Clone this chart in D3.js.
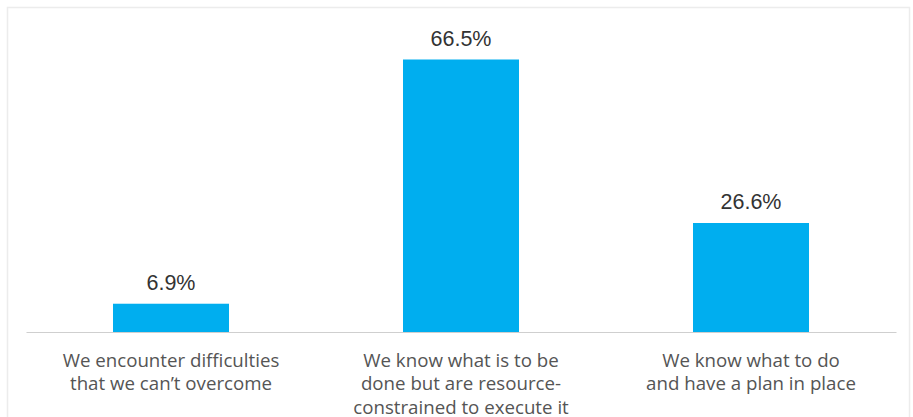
<!DOCTYPE html>
<html>
<head>
<meta charset="utf-8">
<script src="https://cdn.jsdelivr.net/npm/d3@7"></script>
<style>
  body { margin: 0; background: #fff; }
  svg { display: block; font-family: "Liberation Sans", Arial, sans-serif; }
  .cat { font-family: "Open Sans", "Liberation Sans", sans-serif; }
</style>
</head>
<body>
<svg id="chart" width="913" height="417"></svg>
<script>
const categories = [
    ["We encounter difficulties", "that we can\u2019t overcome"],
    ["We know what is to be", "done but are resource-", "constrained to execute it"],
    ["We know what to do", "and have a plan in place"]
];
const values = [6.9, 66.5, 26.6];
const valueLabels = ["6.9%", "66.5%", "26.6%"];

const svg = d3.select("#chart");

// faint frame around the chart
svg.append("rect")
    .attr("x", 7.5).attr("y", 7.5)
    .attr("width", 902).attr("height", 420)
    .attr("fill", "none")
    .attr("stroke", "#ececec")
    .attr("stroke-width", 1.5);

const baseline = 332;
const left = 26, right = 896;

const x = d3.scaleBand()
    .domain(d3.range(values.length))
    .range([left, right])
    .paddingInner(0.6)
    .paddingOuter(0.3);

const y = d3.scaleLinear()
    .domain([0, 66.5])
    .range([baseline, 59.5]);

svg.selectAll(".bar")
    .data(values)
    .enter().append("rect")
    .attr("class", "bar")
    .attr("x", (d, i) => x(i))
    .attr("y", d => y(d))
    .attr("width", x.bandwidth())
    .attr("height", d => baseline - y(d))
    .attr("fill", "#00aeef");

// baseline axis
const axis = svg.append("g")
    .attr("transform", `translate(0,${baseline})`)
    .call(d3.axisBottom(x).tickSize(0).tickFormat(""));
axis.select(".domain").attr("stroke", "#cfcfcf").attr("stroke-width", 1.2);

svg.selectAll(".val")
    .data(values)
    .enter().append("text")
    .attr("class", "val")
    .attr("x", (d, i) => x(i) + x.bandwidth() / 2)
    .attr("y", d => y(d) - 14)
    .attr("text-anchor", "middle")
    .attr("font-size", 21.5)
    .attr("fill", "#333")
    .text((d, i) => valueLabels[i]);

const labels = svg.selectAll(".cat")
    .data(categories)
    .enter().append("text")
    .attr("class", "cat")
    .attr("text-anchor", "middle")
    .attr("font-size", 18.7)
    .attr("fill", "#555");

labels.selectAll("tspan")
    .data((d, i) => d.map(line => ({ line, i })))
    .enter().append("tspan")
    .attr("x", d => x(d.i) + x.bandwidth() / 2)
    .attr("y", (d, j) => 366.5 + j * 23.5)
    .text(d => d.line);
</script>
</body>
</html>
